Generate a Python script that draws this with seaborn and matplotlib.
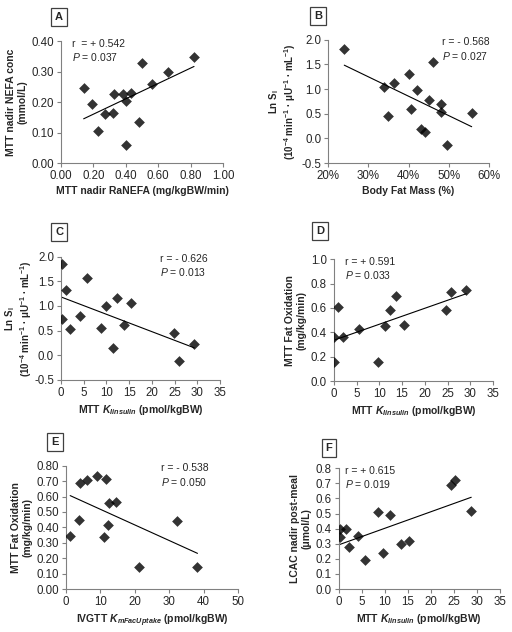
import numpy as np
import matplotlib
matplotlib.use("Agg")
import matplotlib.pyplot as plt
import matplotlib.ticker as mticker
import seaborn as sns

# Panel A
a_x = [0.14, 0.19, 0.23, 0.27, 0.32, 0.33, 0.38, 0.40, 0.40, 0.43, 0.48, 0.50, 0.56, 0.66, 0.82]
a_y = [0.245, 0.195, 0.105, 0.16, 0.165, 0.228, 0.228, 0.205, 0.06, 0.23, 0.135, 0.328, 0.26, 0.298, 0.347]
# Panel B
b_x = [24.0, 34.0, 35.0, 36.3, 40.2, 40.5, 42.2, 43.2, 44.0, 45.0, 46.0, 48.0, 48.0, 49.5, 55.7]
b_y = [1.82, 1.04, 0.45, 1.12, 1.30, 0.60, 0.98, 0.20, 0.14, 0.77, 1.55, 0.70, 0.53, -0.13, 0.52]
# Panel C
c_x = [0.2, 0.2, 1.2, 2.1, 4.1, 5.7, 8.7, 9.9, 11.4, 12.4, 13.9, 15.5, 24.8, 26.0, 29.3]
c_y = [1.84, 0.73, 1.32, 0.54, 0.79, 1.57, 0.55, 1.00, 0.15, 1.15, 0.62, 1.06, 0.46, -0.11, 0.23]
# Panel D
d_x = [0.1, 0.1, 1.0, 2.1, 5.6, 9.8, 11.2, 12.3, 13.7, 15.4, 24.6, 25.7, 29.1]
d_y = [0.36, 0.16, 0.61, 0.36, 0.43, 0.16, 0.45, 0.58, 0.70, 0.46, 0.58, 0.73, 0.75]
# Panel E
e_x = [1.2, 3.9, 4.2, 6.1, 9.1, 11.0, 11.6, 12.1, 12.6, 14.4, 21.2, 32.2, 38.2]
e_y = [0.345, 0.45, 0.685, 0.71, 0.735, 0.34, 0.715, 0.415, 0.56, 0.565, 0.14, 0.44, 0.14]
# Panel F
f_x = [0.2, 0.2, 1.5, 2.2, 4.1, 5.6, 8.6, 9.6, 11.2, 13.5, 15.2, 24.3, 25.3, 28.8]
f_y = [0.395, 0.345, 0.40, 0.28, 0.35, 0.19, 0.51, 0.24, 0.49, 0.30, 0.32, 0.69, 0.72, 0.52]

sns.set_style("white")
plt.rcParams['font.family'] = ['Liberation Sans', 'DejaVu Sans']
plt.rcParams['mathtext.fontset'] = 'custom'
plt.rcParams['mathtext.rm'] = 'Liberation Sans'
plt.rcParams['mathtext.it'] = 'Liberation Sans:italic'
plt.rcParams['mathtext.bf'] = 'Liberation Sans:bold'
plt.rcParams['mathtext.bfit'] = 'Liberation Sans:bold:italic'
plt.rcParams['axes.unicode_minus'] = False

fig = plt.figure(figsize=(5.12, 6.32), dpi=100)

kins = r"MTT $\mathbfit{K}_{\mathbfit{Iinsulin}}$ (pmol/kgBW)"
si_label = ("Ln S$_\\mathbf{I}$\n(10$^{\\mathbf{-4}}$ min$^{\\mathbf{-1}}$ · "
            "μU$^{\\mathbf{-1}}$ · mL$^{\\mathbf{-1}}$)")

panels = [
    dict(letter="A", x=a_x, y=a_y, pos=[0.119, 0.742, 0.317, 0.193],
         xlim=(0, 1), xt=np.arange(0, 1.01, 0.2), xf="{x:.2f}",
         ylim=(0, 0.4), yt=np.arange(0, 0.41, 0.1), yf="{x:.2f}",
         xl="MTT nadir RaNEFA (mg/kgBW/min)", yl="MTT nadir NEFA conc\n(mmol/L)",
         r="r  = + 0.542", p="0.037", tx=0.07, box=(59, 17)),
    dict(letter="B", x=b_x, y=b_y, pos=[0.641, 0.742, 0.314, 0.195],
         xlim=(20, 60), xt=np.arange(20, 61, 10), xf="{x:.0f}%",
         ylim=(-0.5, 2.0), yt=np.arange(-0.5, 2.01, 0.5), yf="{x:.1f}",
         xl="Body Fat Mass (%)", yl=si_label, ylx=-0.186,
         r="r = - 0.568", p="0.027", tx=0.71, box=(318, 16)),
    dict(letter="C", x=c_x, y=c_y, pos=[0.119, 0.399, 0.311, 0.195],
         xlim=(0, 35), xt=np.arange(0, 36, 5), xf="{x:.0f}",
         ylim=(-0.5, 2.0), yt=np.arange(-0.5, 2.01, 0.5), yf="{x:.1f}",
         xl=kins, yl=si_label, ylx=-0.17,
         r="r = - 0.626", p="0.013", tx=0.62, box=(59, 232)),
    dict(letter="D", x=d_x, y=d_y, pos=[0.652, 0.397, 0.311, 0.193],
         xlim=(0, 35), xt=np.arange(0, 36, 5), xf="{x:.0f}",
         ylim=(0, 1.0), yt=np.arange(0, 1.01, 0.2), yf="{x:.1f}",
         xl=kins, yl="MTT Fat Oxidation\n(mg/kg/min)",
         r="r = + 0.591", p="0.033", tx=0.07, box=(320, 231)),
    dict(letter="E", x=e_x, y=e_y, pos=[0.129, 0.068, 0.336, 0.195],
         xlim=(0, 50), xt=np.arange(0, 51, 10), xf="{x:.0f}",
         ylim=(0, 0.8), yt=np.arange(0, 0.81, 0.1), yf="{x:.2f}",
         xl=r"IVGTT $\mathbfit{K}_{\mathbfit{mFacUptake}}$ (pmol/kgBW)",
         yl="MTT Fat Oxidation\n(mg/kg/min)",
         r="r = - 0.538", p="0.050", tx=0.55, box=(55, 442)),
    dict(letter="F", x=f_x, y=f_y, pos=[0.662, 0.068, 0.314, 0.191],
         xlim=(0, 35), xt=np.arange(0, 36, 5), xf="{x:.0f}",
         ylim=(0, 0.8), yt=np.arange(0, 0.81, 0.1), yf="{x:.1f}",
         xl=kins, yl="LCAC nadir post-meal\n(μmol/L)",
         r="r = + 0.615", p="0.019", tx=0.04, box=(329, 448)),
]

for pnl in panels:
    ax = fig.add_axes(pnl["pos"])
    sns.regplot(x=np.array(pnl["x"]), y=np.array(pnl["y"]), ax=ax, ci=None,
                marker="D", color="black",
                scatter_kws=dict(s=30, linewidths=0, zorder=3),
                line_kws=dict(lw=0.8, color="black"))
    ax.set_xlim(pnl["xlim"])
    ax.set_ylim(pnl["ylim"])
    ax.set_xticks(pnl["xt"])
    ax.set_yticks(pnl["yt"])
    ax.xaxis.set_major_formatter(mticker.StrMethodFormatter(pnl["xf"]))
    ax.yaxis.set_major_formatter(mticker.StrMethodFormatter(pnl["yf"]))
    sns.despine(ax=ax)
    for s in ["left", "bottom"]:
        ax.spines[s].set_color("#808080")
        ax.spines[s].set_linewidth(0.8)
    ax.tick_params(axis="both", direction="out", length=3, width=0.8,
                   color="#808080", labelsize=8.3, pad=2, left=True, bottom=True)
    ax.set_xlabel(pnl["xl"], fontsize=7.5, fontweight="bold", labelpad=3)
    if "ylx" in pnl:
        # the two-line S_I label sits closer to the axis, in a smaller size
        ax.set_ylabel(pnl["yl"], fontsize=7, fontweight="bold", linespacing=1.1)
        ax.yaxis.set_label_coords(pnl["ylx"], 0.5)
    else:
        ax.set_ylabel(pnl["yl"], fontsize=7.5, fontweight="bold", labelpad=3)
    ax.text(pnl["tx"], 1.02, pnl["r"], transform=ax.transAxes, fontsize=7.5, va="top")
    ax.text(pnl["tx"], 0.92, r"$P$ = " + pnl["p"], transform=ax.transAxes,
            fontsize=7.5, va="top")
    bx, by = pnl["box"]
    fig.text(bx / 512, 1 - by / 632, pnl["letter"], fontsize=8, fontweight="bold",
             ha="center", va="center",
             bbox=dict(boxstyle="square,pad=0.35", facecolor="white",
                       edgecolor="#404040", linewidth=0.9))

fig.savefig("out.png", dpi=100)
